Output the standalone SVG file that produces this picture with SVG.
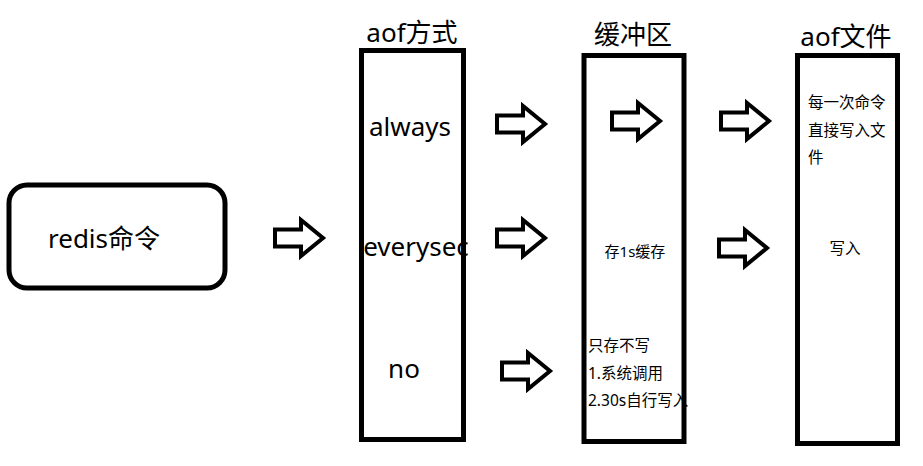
<svg xmlns="http://www.w3.org/2000/svg" width="923" height="466" viewBox="0 0 923 466">
<defs>
<style>
.box{fill:#fff;stroke:#000;stroke-width:5}
.arr{fill:#fff;stroke:#000;stroke-width:4;stroke-linejoin:miter}
.t{font-family:"Noto Sans","Noto Sans CJK SC",sans-serif;fill:#000}
.big{font-size:26px}
.sm{font-size:15.5px}
.m{text-anchor:middle}
</style>
<polygon id="ar" points="0,-8.5 26,-8.5 26,-18 48,0 26,18 26,8.5 0,8.5"/>
</defs>
<rect width="923" height="466" fill="#fff"/>
<g id="redis">
<rect class="box" x="9" y="185" width="216" height="103" rx="18" stroke-width="4.5"/>
<text class="t big" x="48" y="248">redis命令</text>
</g>
<g id="aofmode">
<text class="t big m" x="412" y="42">aof方式</text>
<rect class="box" x="361.5" y="50.5" width="102" height="389"/>
<text class="t big m" x="410" y="136">always</text>
<text class="t big m" x="416" y="256">everysec</text>
<text class="t big m" x="404" y="378">no</text>
</g>
<g id="buffer">
<text class="t big m" x="633" y="44">缓冲区</text>
<rect class="box" x="584" y="55.5" width="100" height="386"/>
<text class="t m" x="635" y="257" font-size="15">存1s缓存</text>
<text class="t sm" x="588" y="351">只存不写</text>
<text class="t sm" x="588" y="379">1.系统调用</text>
<text class="t sm" x="588" y="406">2.30s自行写入</text>
</g>
<g id="aoffile">
<text class="t big m" x="846" y="46">aof文件</text>
<rect class="box" x="797.5" y="55.5" width="100" height="388"/>
<text class="t sm" x="808" y="108">每一次命令</text>
<text class="t sm" x="808" y="136">直接写入文</text>
<text class="t sm" x="808" y="163">件</text>
<text class="t sm m" x="845" y="254">写入</text>
</g>
<g id="connectors">
<use href="#ar" class="arr" transform="translate(275,238)"/>
<use href="#ar" class="arr" transform="translate(497,124)"/>
<use href="#ar" class="arr" transform="translate(612,121)"/>
<use href="#ar" class="arr" transform="translate(721,121)"/>
<use href="#ar" class="arr" transform="translate(497,238)"/>
<use href="#ar" class="arr" transform="translate(719,248)"/>
<use href="#ar" class="arr" transform="translate(502,371)"/>
</g>
</svg>
